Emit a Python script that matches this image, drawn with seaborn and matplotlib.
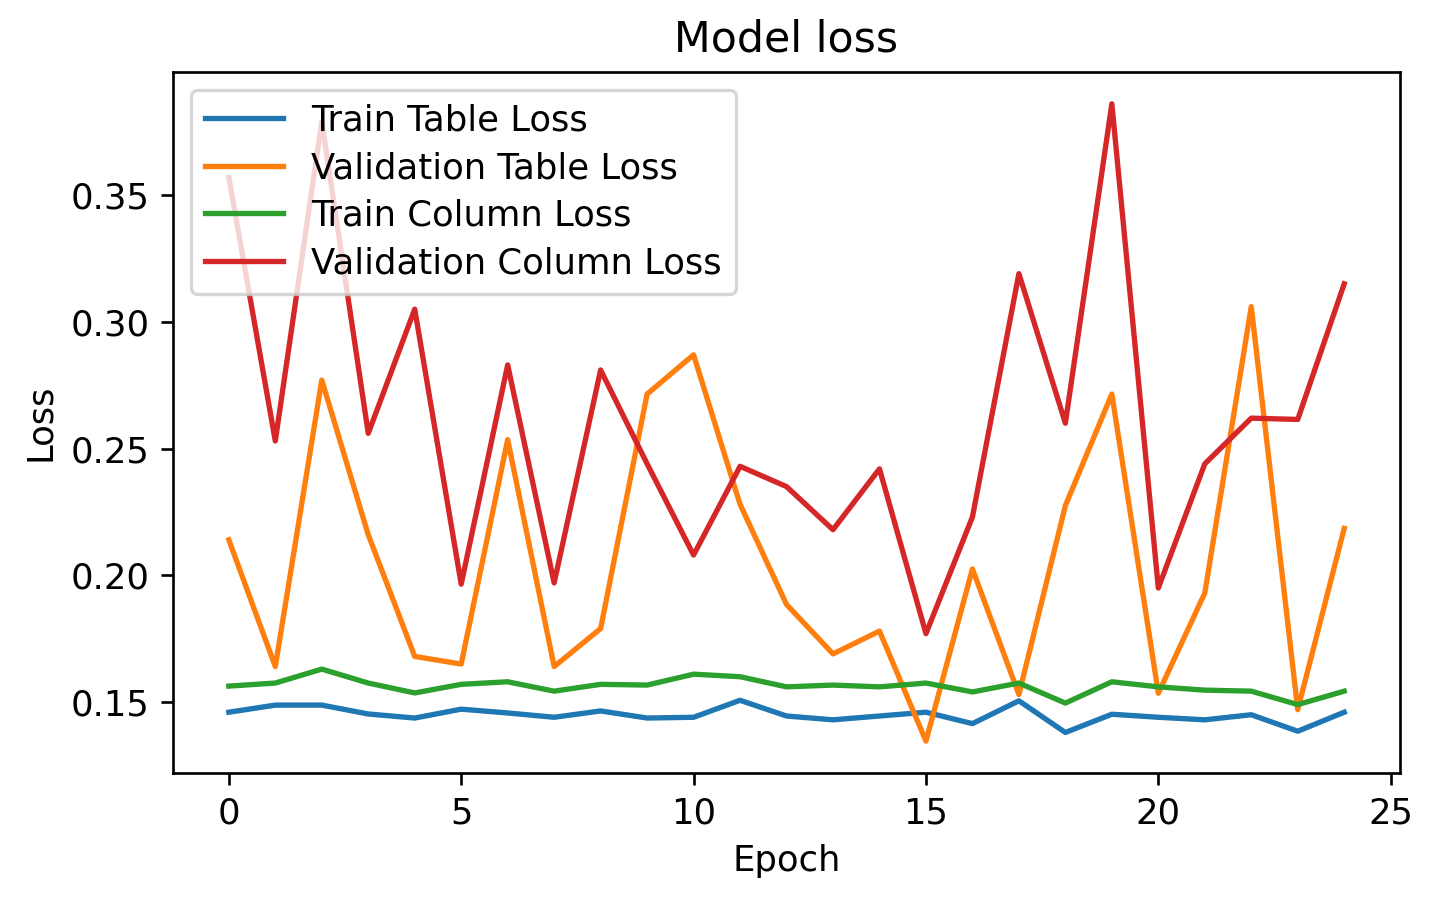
"""Model loss curves: train/validation table and column loss per epoch."""
import numpy as np
import pandas as pd
import seaborn as sns
import matplotlib
matplotlib.use('Agg')
import matplotlib.pyplot as plt

epochs = list(range(25))
train_table_loss = [0.146, 0.1488, 0.1488, 0.1453, 0.1437, 0.1472, 0.1457, 0.144, 0.1465, 0.1437,
                    0.144, 0.1507, 0.1445, 0.143, 0.1445, 0.146, 0.1415, 0.1505, 0.138, 0.1452,
                    0.144, 0.143, 0.145, 0.1385, 0.146]
val_table_loss = [0.214, 0.164, 0.277, 0.216, 0.168, 0.165, 0.2535, 0.164, 0.179, 0.2715,
                  0.287, 0.228, 0.1885, 0.169, 0.178, 0.1346, 0.2025, 0.153, 0.2275, 0.2715,
                  0.1535, 0.193, 0.306, 0.147, 0.2185]
train_column_loss = [0.1563, 0.1575, 0.163, 0.1575, 0.1536, 0.157, 0.158, 0.1543, 0.157, 0.1567,
                     0.161, 0.160, 0.156, 0.1567, 0.156, 0.1575, 0.154, 0.1575, 0.1496, 0.158,
                     0.156, 0.1547, 0.1543, 0.149, 0.1543]
val_column_loss = [0.357, 0.253, 0.379, 0.256, 0.305, 0.1965, 0.283, 0.197, 0.281, 0.244,
                   0.208, 0.243, 0.235, 0.218, 0.242, 0.177, 0.223, 0.319, 0.260, 0.386,
                   0.195, 0.244, 0.262, 0.2615, 0.315]

series = {
    'Train Table Loss': train_table_loss,
    'Validation Table Loss': val_table_loss,
    'Train Column Loss': train_column_loss,
    'Validation Column Loss': val_column_loss,
}
df = pd.concat([pd.DataFrame({'Epoch': epochs, 'Loss': v, 'series': k})
                for k, v in series.items()], ignore_index=True)

plt.rcParams.update({'font.size': 10.6})

DPI = 240
fig, ax = plt.subplots(figsize=(1435 / DPI, 903 / DPI), dpi=DPI)
fig.subplots_adjust(left=0.1206, right=0.9756, top=0.9203, bottom=0.144)

sns.lineplot(data=df, x='Epoch', y='Loss', hue='series', palette='tab10',
             linewidth=1.6, ax=ax)

ax.set_title('Model loss', fontsize=12.8)
ax.set_xlabel('Epoch')
ax.set_ylabel('Loss')
ax.set_yticks([0.15, 0.20, 0.25, 0.30, 0.35])
ax.set_xticks([0, 5, 10, 15, 20, 25])
ax.legend(loc='upper left', title=None, labelspacing=0.38, handlelength=2.2)

fig.savefig('out.png', dpi=DPI)
plt.close(fig)
